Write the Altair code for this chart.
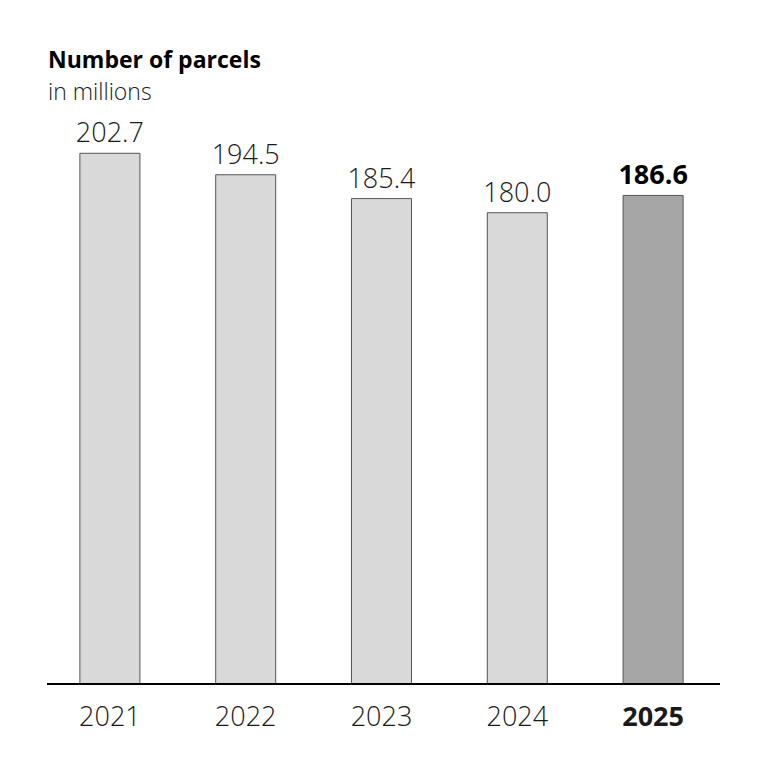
import altair as alt
import pandas as pd

years = ["2021", "2022", "2023", "2024", "2025"]
parcels = [202.7, 194.5, 185.4, 180.0, 186.6]
highlight = [False, False, False, False, True]

df = pd.DataFrame({"year": years, "value": parcels, "hl": highlight})

FONT = "Open Sans"

base = alt.Chart(df)

x = alt.X("year:N", sort=years, title=None,
          scale=alt.Scale(paddingInner=0.558, paddingOuter=0.279),
          axis=alt.Axis(labelFontSize=27, labelFont=FONT, labelColor="#1a1a1a",
                        labelPadding=20, ticks=False, domain=False, labelAngle=0,
                        labelFontWeight=alt.ExprRef("datum.value == '2025' ? 'bold' : 300")))
y = alt.Y("value:Q", scale=alt.Scale(domain=[0, 220], nice=False), axis=None)

bars = base.mark_bar(stroke="#555555", strokeWidth=1).encode(
    x=x, y=y,
    color=alt.Color("hl:N", scale=alt.Scale(domain=[False, True], range=["#d9d9d9", "#a6a6a6"]), legend=None),
)

baseline_rule = base.mark_rule(color="#000000", strokeWidth=2).encode(
    x=alt.value(5), x2=alt.value(678), y=alt.value(576)
)

labels_norm = base.transform_filter("!datum.hl").mark_text(
    fontSize=27, font=FONT, fontWeight=300, color="#1a1a1a", baseline="alphabetic", dy=-11
).encode(x=alt.X("year:N", sort=years), y="value:Q", text=alt.Text("value:Q", format=".1f"))

labels_bold = base.transform_filter("datum.hl").mark_text(
    fontSize=27, font=FONT, color="#000000", baseline="alphabetic", dy=-11, fontWeight="bold"
).encode(x=alt.X("year:N", sort=years), y="value:Q", text=alt.Text("value:Q", format=".1f"))

title = alt.Chart(pd.DataFrame({"t": ["Number of parcels"]})).mark_text(
    fontSize=23, font=FONT, fontWeight="bold", align="left", baseline="alphabetic", color="#000000"
).encode(x=alt.value(6), y=alt.value(-40), text="t:N")

subtitle = alt.Chart(pd.DataFrame({"t": ["in millions"]})).mark_text(
    fontSize=23, font=FONT, fontWeight=300, align="left", baseline="alphabetic", color="#1a1a1a"
).encode(x=alt.value(6), y=alt.value(-8), text="t:N")

chart = alt.layer(bars, baseline_rule, labels_norm, labels_bold, title, subtitle).properties(
    width=679, height=576,
    autosize=alt.AutoSizeParams(type="none"),
    padding={"left": 34, "top": 100, "right": 30, "bottom": 60},
).configure_view(stroke=None)

chart.save("out.html", embed_options={"renderer": "svg", "actions": False})
